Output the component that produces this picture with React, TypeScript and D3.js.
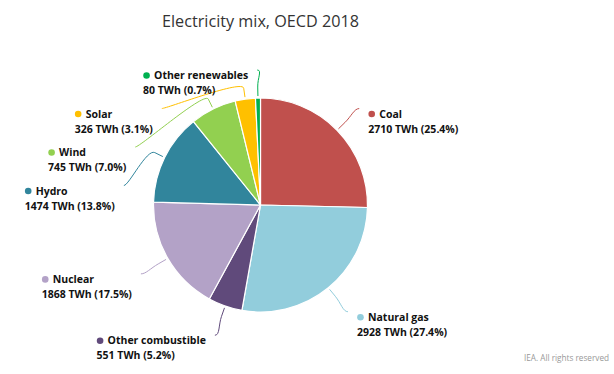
import { useEffect, useRef } from "react";
import * as d3 from "d3";

const categories = ["Coal", "Natural gas", "Other combustible", "Nuclear", "Hydro", "Wind", "Solar", "Other renewables"];
const values = [2710, 2928, 551, 1868, 1474, 745, 326, 80];
const colors = ["#c0504d", "#92cddc", "#604a7b", "#b3a2c7", "#31859c", "#92d050", "#ffc000", "#00b050"];

const W = 614;
const H = 374;

export default function App() {
  const ref = useRef<SVGSVGElement>(null);

  useEffect(() => {
    const svg = d3.select(ref.current);
    svg.selectAll("*").remove();

    const cx = 260.5;
    const cy = 205;
    const r = 107;
    const labelR = 138;
    const spacing = 38.5;
    const topMin = 70;
    const font = "'Open Sans', sans-serif";

    const total = d3.sum(values);
    const pie = d3.pie<number>().sort(null).value(d => d);
    const arcs = pie(values);
    const arc = d3.arc<d3.PieArcDatum<number>>().innerRadius(0).outerRadius(r);

    const pt = (a: number, rad: number) => [cx + rad * Math.sin(a), cy - rad * Math.cos(a)];

    svg.append("text")
      .attr("x", cx).attr("y", 27)
      .attr("text-anchor", "middle")
      .attr("font-family", font).attr("font-size", 16.2)
      .attr("fill", "#333")
      .text("Electricity mix, OECD 2018");

    svg.append("text")
      .attr("x", 609).attr("y", 361)
      .attr("text-anchor", "end")
      .attr("font-family", font).attr("font-size", 8.2)
      .attr("fill", "#999")
      .text("IEA. All rights reserved");

    // label layout (push labels down on each side so they do not overlap)
    const labels = arcs.map((d, i) => {
      const mid = (d.startAngle + d.endAngle) / 2;
      const [nx, ny] = pt(mid, labelR);
      return { i, mid, nx, ny, x: nx, y: ny, right: mid < Math.PI };
    });
    [true, false].forEach(side => {
      const group = labels.filter(l => l.right === side).sort((a, b) => a.ny - b.ny);
      let prev = topMin - spacing;
      group.forEach(l => {
        l.y = Math.max(l.ny, prev + spacing);
        prev = l.y;
        if (l.y - l.ny > 10) {
          const dy = l.y - cy;
          const dx = Math.sqrt(Math.max(labelR * labelR - dy * dy, 0));
          l.x = cx + (l.right ? dx : -dx);
        }
      });
    });

    svg.append("g").selectAll("path")
      .data(arcs).enter().append("path")
      .attr("transform", `translate(${cx},${cy})`)
      .attr("d", arc)
      .attr("fill", (d, i) => colors[i])
      .attr("stroke", "#fff")
      .attr("stroke-width", 1.2)
      .attr("stroke-linejoin", "round");

    // connectors
    labels.forEach(l => {
      const [tx, ty] = pt(l.mid, r + 2);
      const [bx, by] = pt(l.mid, r + 11);
      const dir = l.right ? 1 : -1;
      const p = d3.path();
      p.moveTo(l.x, l.y);
      p.bezierCurveTo(l.x - dir * 5, l.y, 2 * bx - tx, 2 * by - ty, bx, by);
      p.lineTo(tx, ty);
      svg.append("path")
        .attr("d", p.toString())
        .attr("fill", "none")
        .attr("stroke", colors[l.i])
        .attr("stroke-width", 1);
    });

    // label texts
    labels.forEach(l => {
      const g = svg.append("g");
      const name = g.append("text")
        .attr("x", 11).attr("y", 0).attr("dy", "0.35em")
        .attr("font-family", font).attr("font-size", 10.5).attr("font-weight", 700)
        .attr("fill", "#111")
        .text(categories[l.i]);
      const pct = (values[l.i] / total * 100).toFixed(1);
      const val = g.append("text")
        .attr("x", 0).attr("y", 15).attr("dy", "0.35em")
        .attr("font-family", font).attr("font-size", 10.5).attr("font-weight", 700)
        .attr("fill", "#111")
        .text(`${values[l.i]} TWh (${pct}%)`);
      g.append("circle")
        .attr("cx", 3.5).attr("cy", 0).attr("r", 3.3)
        .attr("fill", colors[l.i]);
      const w1 = (name.node() as SVGTextElement).getComputedTextLength() + 11;
      const w2 = (val.node() as SVGTextElement).getComputedTextLength();
      const w = Math.max(w1, w2);
      const left = l.right ? l.x + 9 : l.x - 9 - w;
      g.attr("transform", `translate(${left},${l.y + 5.5})`);
    });
  }, []);

  return (
    <svg
      ref={ref}
      width={W}
      height={H}
      style={{ position: "absolute", left: 0, top: 0, background: "#fff" }}
    />
  );
}
